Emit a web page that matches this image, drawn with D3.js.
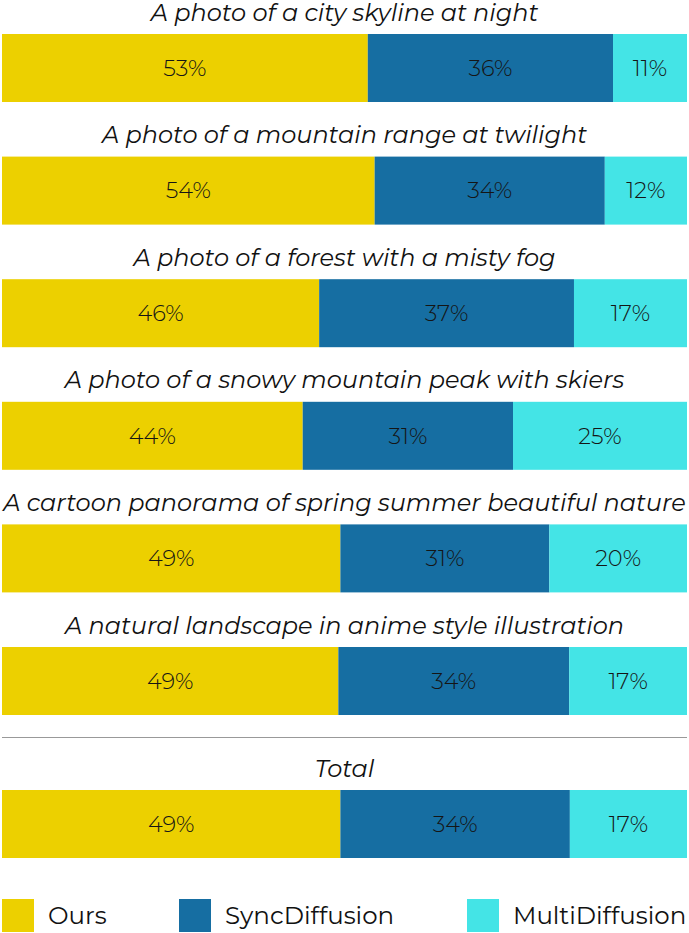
<!DOCTYPE html>
<html>
<head>
<meta charset="utf-8">
<script src="https://cdn.jsdelivr.net/npm/d3@7"></script>
<style>
  body { margin: 0; background: #fff; }
</style>
</head>
<body>
<div class="chart"></div>
<script>
const prompts = [
  'A photo of a city skyline at night',
  'A photo of a mountain range at twilight',
  'A photo of a forest with a misty fog',
  'A photo of a snowy mountain peak with skiers',
  'A cartoon panorama of spring summer beautiful nature',
  'A natural landscape in anime style illustration',
  'Total'
]
const methods = ['Ours', 'SyncDiffusion', 'MultiDiffusion']
const ours  = [53.4, 54.4, 46.3, 43.9, 49.4, 49.1, 49.4]
const sync  = [35.8, 33.6, 37.2, 30.7, 30.5, 33.7, 33.5]
const multi = [10.8, 12.0, 16.5, 25.4, 20.1, 17.2, 17.1]
const colors = ['#ecd000', '#166ea2', '#44e4e6']

const width = 689
const height = 933
const font = 'Montserrat, "Open Sans", "Noto Sans", sans-serif'

const data = prompts.map((p, i) => ({prompt: p, Ours: ours[i], SyncDiffusion: sync[i], MultiDiffusion: multi[i]}))
const stacked = d3.stack().keys(methods)(data)

const svg = d3.select('.chart')
  .append('svg')
  .attr('width', width)
  .attr('height', height)

const xScale = d3.scaleLinear()
  .domain([0, 100])
  .range([2, 687])

// rows, Total is pushed down a bit below the separator
const yScale = d3.scaleBand()
  .domain(prompts)
  .range([12, 12 + 7 * 122.6])
  .paddingInner(0)
const rowY = d => yScale(d) + (d === 'Total' ? 20.4 : 0)
const barTop = 22
const barH = 68

const color = d3.scaleOrdinal().domain(methods).range(colors)

// titles
svg.append('g').selectAll('text')
  .data(prompts)
  .enter()
  .append('text')
  .text(d => d)
  .attr('x', width / 2)
  .attr('y', d => rowY(d) + 8.5)
  .attr('text-anchor', 'middle')
  .attr('font-family', font)
  .attr('font-style', 'italic')
  .attr('font-size', '24px')
  .attr('fill', '#111')

// bars
const layers = svg.append('g').selectAll('g')
  .data(stacked)
  .enter()
  .append('g')
  .attr('fill', d => color(d.key))

layers.selectAll('rect')
  .data(d => d)
  .enter()
  .append('rect')
  .attr('x', d => xScale(d[0]))
  .attr('width', d => xScale(d[1]) - xScale(d[0]))
  .attr('y', d => rowY(d.data.prompt) + barTop)
  .attr('height', barH)

layers.selectAll('text')
  .data(d => d.map(v => ({v, key: d.key})))
  .enter()
  .append('text')
  .text(d => Math.round(d.v.data[d.key]) + '%')
  .attr('x', d => (xScale(d.v[0]) + xScale(d.v[1])) / 2)
  .attr('y', d => rowY(d.v.data.prompt) + barTop + barH / 2)
  .attr('dy', '.35em')
  .attr('text-anchor', 'middle')
  .attr('fill', '#151515')
  .attr('font-family', font)
  .attr('font-weight', 300)
  .attr('font-size', '22.5px')

// separator above Total
svg.append('line')
  .attr('x1', xScale(0))
  .attr('x2', xScale(100))
  .attr('y1', 737.5)
  .attr('y2', 737.5)
  .attr('stroke', '#999')
  .attr('stroke-width', 1)

// legend
const legendX = [2, 179, 467]
const legend = svg.append('g').selectAll('g')
  .data(methods)
  .enter()
  .append('g')
  .attr('transform', (d, i) => `translate(${legendX[i]}, 899)`)

legend.append('rect')
  .attr('width', 32)
  .attr('height', 33)
  .attr('fill', d => color(d))

legend.append('text')
  .text(d => d)
  .attr('x', 46)
  .attr('y', 16.5)
  .attr('dy', '.35em')
  .attr('fill', '#111')
  .attr('font-family', font)
  .attr('font-size', '24.5px')
</script>
</body>
</html>
